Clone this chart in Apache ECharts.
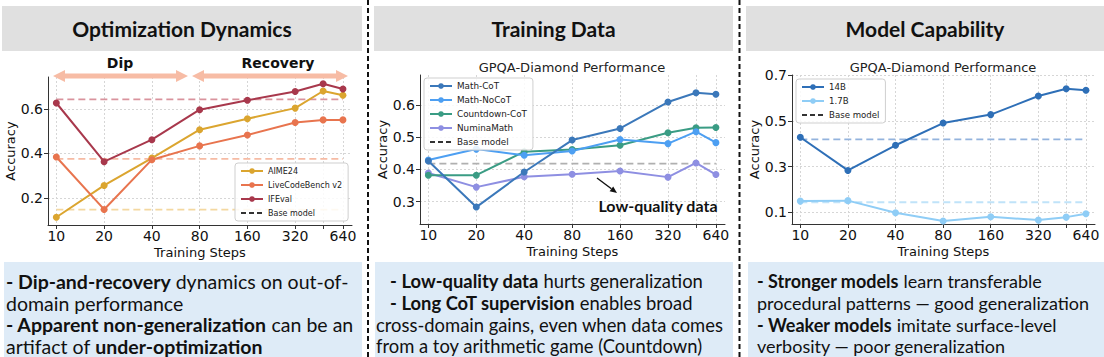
<!DOCTYPE html>
<html><head><meta charset="utf-8">
<script src="https://cdn.jsdelivr.net/npm/echarts@6/dist/echarts.min.js"></script>
<style>html,body{margin:0;padding:0;background:#fff}#c{width:1104px;height:357px}</style>
</head><body><div id="c"></div>
<script>
// ---------- data ----------
const steps = [10, 20, 40, 80, 160, 320, 480, 640];
const stepLabels = [10, 20, 40, 80, 160, 320, 640];
const baseSpan = [10, 640];

// Panel 1: Optimization Dynamics
const aime24 = [0.113, 0.256, 0.379, 0.507, 0.556, 0.604, 0.681, 0.662];
const liveCodeBench = [0.384, 0.148, 0.372, 0.434, 0.483, 0.539, 0.551, 0.551];
const ifeval = [0.627, 0.363, 0.462, 0.597, 0.639, 0.679, 0.714, 0.690];
const aime24Base = 0.147;
const liveCodeBenchBase = 0.376;
const ifevalBase = 0.643;
const yTicks1 = [0.2, 0.4, 0.6];

// Panel 2: Training Data
const mathCoT = [0.426, 0.283, 0.392, 0.491, 0.527, 0.609, 0.638, 0.633];
const mathNoCoT = [0.429, 0.463, 0.444, 0.457, 0.493, 0.480, 0.517, 0.483];
const countdownCoT = [0.382, 0.382, 0.455, 0.462, 0.475, 0.514, 0.529, 0.530];
const numinaMath = [0.389, 0.345, 0.377, 0.385, 0.395, 0.376, 0.420, 0.384];
const gpqaBase = 0.418;
const yTicks2 = [0.3, 0.4, 0.5, 0.6];

// Panel 3: Model Capability
const model14B = [0.428, 0.283, 0.393, 0.490, 0.527, 0.608, 0.640, 0.633];
const model17B = [0.149, 0.151, 0.098, 0.062, 0.081, 0.066, 0.079, 0.094];
const model14BBase = 0.419;
const model17BBase = 0.144;
const yTicks3 = [0.1, 0.3, 0.5, 0.7];

// ---------- helpers ----------
const pairs = vals => steps.map((s, i) => [s, vals[i]]);
const flat = v => baseSpan.map(s => [s, v]);
const MPL = 'DejaVu Sans';

function xAx(gi) {
  return {
    type: 'log', logBase: 2, gridIndex: gi, min: 8.86, max: 730,
    axisLine: { show: true, lineStyle: { color: '#333', width: 1 } },
    axisTick: { show: true, customValues: steps, length: 4, lineStyle: { color: '#333' } },
    axisLabel: { customValues: stepLabels, fontSize: 14, color: '#111', margin: 4, fontFamily: MPL },
    splitLine: { show: true, lineStyle: { color: '#d6d6d6', type: [2, 2] } },
    minorTick: { show: false }, minorSplitLine: { show: false },
    name: 'Training Steps', nameLocation: 'middle', nameGap: 21,
    nameTextStyle: { fontSize: 13, color: '#111', fontFamily: MPL }
  };
}
function yAx(gi, min, max, ticks) {
  return {
    type: 'value', gridIndex: gi, min: min, max: max,
    axisLine: { show: true, lineStyle: { color: '#333', width: 1 } },
    axisTick: { show: true, customValues: ticks, length: 4, lineStyle: { color: '#333' } },
    axisLabel: { customValues: ticks, fontSize: 14, color: '#111', margin: 5, fontFamily: MPL,
      formatter: v => (+v).toFixed(1) },
    splitLine: { show: true, lineStyle: { color: '#d6d6d6', type: [2, 2] } },
    name: 'Accuracy', nameLocation: 'middle', nameGap: 28,
    nameTextStyle: { fontSize: 13, color: '#111', fontFamily: MPL }
  };
}
function line(name, gi, vals, color) {
  return {
    type: 'line', name: name, xAxisIndex: gi, yAxisIndex: gi, data: pairs(vals),
    color: color, symbol: 'circle', symbolSize: 7, lineStyle: { width: 2, color: color },
    itemStyle: { color: color }, z: 3, animation: false
  };
}
function baseLine(name, gi, v, color) {
  return {
    type: 'line', name: name, xAxisIndex: gi, yAxisIndex: gi, data: flat(v),
    symbol: 'none', lineStyle: { width: 1.8, color: color, type: [7, 4] }, z: 2, silent: true,
    animation: false
  };
}
const baseLegendItem = { name: 'Base model', itemStyle: { opacity: 0 } };
function legend(left, top, names, fs) {
  return {
    data: names.map(n => n === 'Base model' ? baseLegendItem : n),
    orient: 'vertical', left: left, top: top,
    backgroundColor: 'rgba(255,255,255,0.85)', borderColor: '#cfcfcf', borderWidth: 1, borderRadius: 3,
    padding: [3, 6, 3, 5], itemGap: 4, itemWidth: 22, itemHeight: 7,
    textStyle: { fontSize: fs, color: '#222', fontFamily: MPL, lineHeight: 10 },
    selectedMode: false
  };
}

// ---------- layout annotations ----------
const hdrFont = 'bold 21px Lato';
const LH = 21.7;
function header(x0, x1, text) {
  return [
    { type: 'rect', shape: { x: x0, y: 6, width: x1 - x0, height: 45 }, style: { fill: '#e0e0e0' }, z: 0 },
    { type: 'text', x: (x0 + x1) / 2, y: 28.5, style: { text: text, font: hdrFont, fill: '#111', align: 'center', verticalAlign: 'middle' }, z: 1 }
  ];
}
function box(x0, x1, tx, fs, lines) {
  return [
    { type: 'rect', shape: { x: x0, y: 262, width: x1 - x0, height: 95 }, style: { fill: '#deebf7' }, z: 0 },
    { type: 'text', x: tx, y: 270.5, style: { text: lines.join('\n'), font: fs + 'px Lato', fill: '#111', lineHeight: LH,
      rich: { b: { fontWeight: 'bold', fontSize: fs, fontFamily: 'Lato', lineHeight: LH, fill: '#111' } } }, z: 1 }
  ];
}
function arrow2(x0, x1, y, color) {
  const h = 12, hw = 6, bw = 2.6;
  return { type: 'polygon', shape: { points: [
    [x0, y], [x0 + h, y - hw], [x0 + h, y - bw], [x1 - h, y - bw], [x1 - h, y - hw], [x1, y],
    [x1 - h, y + hw], [x1 - h, y + bw], [x0 + h, y + bw], [x0 + h, y + hw]] },
    style: { fill: color }, z: 5 };
}
const sepStyle = { stroke: '#111', lineWidth: 2, lineDash: [5, 3] };

const graphic = [].concat(
  header(2, 362, 'Optimization Dynamics'),
  header(374, 733, 'Training Data'),
  header(746, 1104, 'Model Capability'),
  box(4, 362, 6, 19.5, [
    '{b|- Dip-and-recovery} dynamics on out-of-',
    'domain performance',
    '{b|- Apparent non-generalization} can be an',
    'artifact of {b|under-optimization}'
  ]),
  box(375, 733, 376, 18.4, [
    '   {b|- Low-quality data} hurts generalization',
    '   {b|- Long CoT supervision} enables broad',
    'cross-domain gains, even when data comes',
    'from a toy arithmetic game (Countdown)'
  ]),
  box(748, 1104, 757, 18, [
    '{b|- Stronger models} learn transferable',
    'procedural patterns \u2014 good generalization',
    '{b|- Weaker models} imitate surface-level',
    'verbosity \u2014 poor generalization'
  ]),
  [
    { type: 'line', shape: { x1: 368, y1: 0, x2: 368, y2: 357 }, style: sepStyle, z: 6 },
    { type: 'line', shape: { x1: 739.5, y1: 0, x2: 739.5, y2: 357 }, style: sepStyle, z: 6 },
    arrow2(53, 188, 76, '#f7bca5'),
    arrow2(192, 348, 76, '#f7bca5'),
    { type: 'text', x: 120, y: 63, style: { text: 'Dip', font: 'bold 14px "DejaVu Sans"', fill: '#111', align: 'center', verticalAlign: 'middle' }, z: 6 },
    { type: 'text', x: 278, y: 63, style: { text: 'Recovery', font: 'bold 14px "DejaVu Sans"', fill: '#111', align: 'center', verticalAlign: 'middle' }, z: 6 },
    { type: 'text', x: 572, y: 67, style: { text: 'GPQA-Diamond Performance', font: '13px "DejaVu Sans"', fill: '#222', align: 'center', verticalAlign: 'middle' }, z: 6 },
    { type: 'text', x: 943, y: 67, style: { text: 'GPQA-Diamond Performance', font: '13px "DejaVu Sans"', fill: '#222', align: 'center', verticalAlign: 'middle' }, z: 6 },
    { type: 'text', x: 658, y: 205, style: { text: 'Low-quality data', font: 'bold 16px Lato', fill: '#111', align: 'center', verticalAlign: 'middle' }, z: 6 },
    { type: 'line', shape: { x1: 597, y1: 178, x2: 611.4, y2: 188.8 }, style: { stroke: '#111', lineWidth: 1.4 }, z: 6 },
    { type: 'polygon', shape: { points: [[617, 193], [609.6, 191.2], [613.2, 186.4]] }, style: { fill: '#111' }, z: 6 }
  ]
);

const option = {
  animation: false,
  backgroundColor: '#ffffff',
  grid: [
    { left: 48, top: 77, width: 304, height: 148 },
    { left: 420, top: 75, width: 305, height: 149 },
    { left: 792, top: 75, width: 303, height: 149 }
  ],
  xAxis: [xAx(0), xAx(1), xAx(2)],
  yAxis: [yAx(0, 0.078, 0.744, yTicks1), yAx(1, 0.2305, 0.693, yTicks2), yAx(2, 0.049, 0.70, yTicks3)],
  legend: [
    legend(235, 163, ['AIME24', 'LiveCodeBench v2', 'IFEval', 'Base model'], 8),
    legend(424, 78, ['Math-CoT', 'Math-NoCoT', 'Countdown-CoT', 'NuminaMath', 'Base model'], 8.8),
    legend(796, 79, ['14B', '1.7B', 'Base model'], 8.6)
  ],
  series: [
    { type: 'line', name: 'Base model', xAxisIndex: 0, yAxisIndex: 0, data: [], symbol: 'none',
      color: '#333', lineStyle: { color: '#333', width: 1.6, type: [5, 3] } },
    baseLine('IFEval base', 0, ifevalBase, '#d9939d'),
    baseLine('LiveCodeBench v2 base', 0, liveCodeBenchBase, '#f6bba4'),
    baseLine('AIME24 base', 0, aime24Base, '#f4d8a0'),
    line('AIME24', 0, aime24, '#dba52f'),
    line('LiveCodeBench v2', 0, liveCodeBench, '#e8744e'),
    line('IFEval', 0, ifeval, '#a8384c'),

    baseLine('GPQA base', 1, gpqaBase, '#b0b0b0'),
    line('NuminaMath', 1, numinaMath, '#8e8fe2'),
    line('Countdown-CoT', 1, countdownCoT, '#3a9c84'),
    line('Math-NoCoT', 1, mathNoCoT, '#4d9ff2'),
    line('Math-CoT', 1, mathCoT, '#3b78ba'),

    baseLine('14B base', 2, model14BBase, '#93b3dd'),
    baseLine('1.7B base', 2, model17BBase, '#c0e3f9'),
    line('1.7B', 2, model17B, '#8fcdf6'),
    line('14B', 2, model14B, '#2e6fb7')
  ],
  graphic: { elements: graphic }
};

const chart = echarts.init(document.getElementById('c'), null, { renderer: 'svg', width: 1104, height: 357 });
chart.setOption(option);
</script>
</body></html>
